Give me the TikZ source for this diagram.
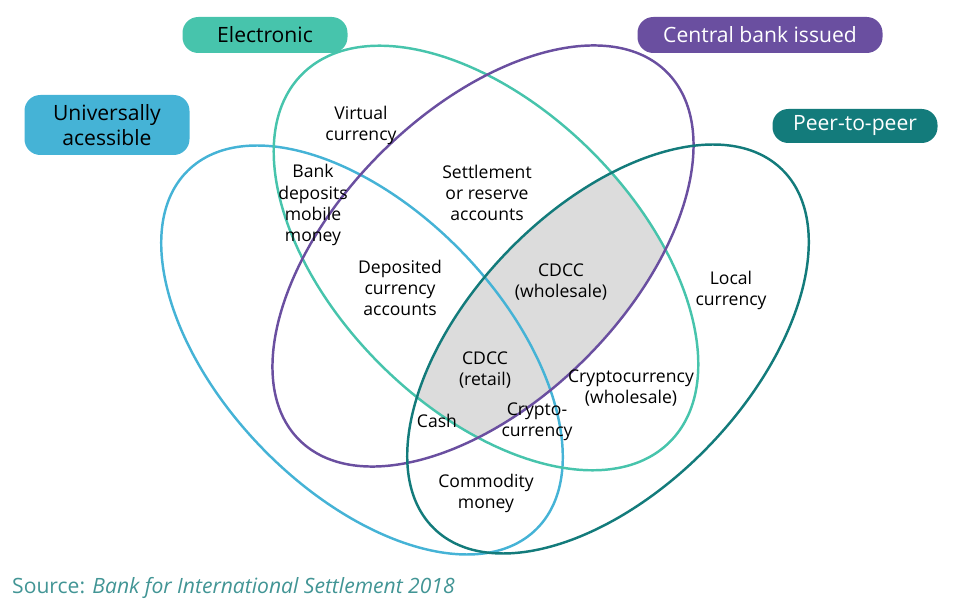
\documentclass[tikz,border=0pt]{standalone}
\usepackage{fontspec}
\setmainfont{Open Sans}
\definecolor{cblue}{HTML}{45B3D6}
\definecolor{cteal}{HTML}{47C4AC}
\definecolor{cpurple}{HTML}{6A4FA0}
\definecolor{cdark}{HTML}{137B7B}
\definecolor{cgray}{HTML}{DCDCDC}
\tikzset{
    ring/.style={line width=1.4pt},
    tag/.style={rounded corners=9pt, text=white, font=\large, align=center, inner sep=0pt},
    lbl/.style={align=center, font=\normalsize, inner sep=1pt},
}
\begin{document}
\begin{tikzpicture}
\useasboundingbox (0,0) rectangle (19.2,12.18);

		% shared region
		\begin{scope}
		\clip[rotate around={-45:(9.72,7.02)}] (9.72,7.02) ellipse (5.2cm and 3.0cm);
		\clip[rotate around={45:(9.66,7.06)}] (9.66,7.06) ellipse (5.2cm and 2.9cm);
		\fill[cgray,rotate around={46:(12.16,5.2)}] (12.16,5.2) ellipse (5.0cm and 2.8cm);
		\end{scope}

		\draw[ring,cblue,rotate around={-46:(7.24,5.18)}] (7.24,5.18) ellipse (5.0cm and 2.8cm);
		\draw[ring,cteal,rotate around={-45:(9.72,7.02)}] (9.72,7.02) ellipse (5.2cm and 3.0cm);
		\draw[ring,cpurple,rotate around={45:(9.66,7.06)}] (9.66,7.06) ellipse (5.2cm and 2.9cm);
		\draw[ring,cdark,rotate around={46:(12.16,5.2)}] (12.16,5.2) ellipse (5.0cm and 2.8cm);

		\node[tag,fill=cteal,text=black,minimum width=3.3cm,minimum height=0.72cm] (electronic) at (5.3,11.48) {Electronic};
		\node[tag,fill=cpurple,minimum width=4.9cm,minimum height=0.72cm] (central) at (15.2,11.48) {Central bank issued};
		\node[tag,fill=cblue,text=black,minimum width=3.3cm,minimum height=1.2cm] (universal) at (2.14,9.68) {Universally\\acessible};
		\node[tag,fill=cdark,minimum width=3.3cm,minimum height=0.68cm] (ptp) at (17.1,9.66) {Peer-to-peer};

		\node[lbl] (virtual) at (7.22,9.68) {Virtual\\currency};
		\node[lbl] (bank) at (6.26,8.08) {Bank\\deposits\\mobile\\money};
		\node[lbl] (settle) at (9.74,8.32) {Settlement\\or reserve\\accounts};
		\node[lbl] (deposit) at (8.0,6.42) {Deposited\\currency\\accounts};
		\node[lbl] (cdccw) at (11.22,6.54) {CDCC\\(wholesale)};
		\node[lbl] (local) at (14.62,6.38) {Local\\currency};
		\node[lbl] (cdccr) at (9.7,4.78) {CDCC\\(retail)};
		\node[lbl] (cryptow) at (12.62,4.42) {Cryptocurrency\\(wholesale)};
		\node[lbl] (cash) at (8.74,3.76) {Cash};
		\node[lbl] (crypto) at (10.74,3.74) {Crypto-\\currency};
		\node[lbl] (commodity) at (9.72,2.32) {Commodity\\money};

		\node[anchor=west,text=cdark!80,font=\large] (source) at (0.12,0.42) {Source: \textit{Bank for International Settlement 2018}};
\end{tikzpicture}
\end{document}
